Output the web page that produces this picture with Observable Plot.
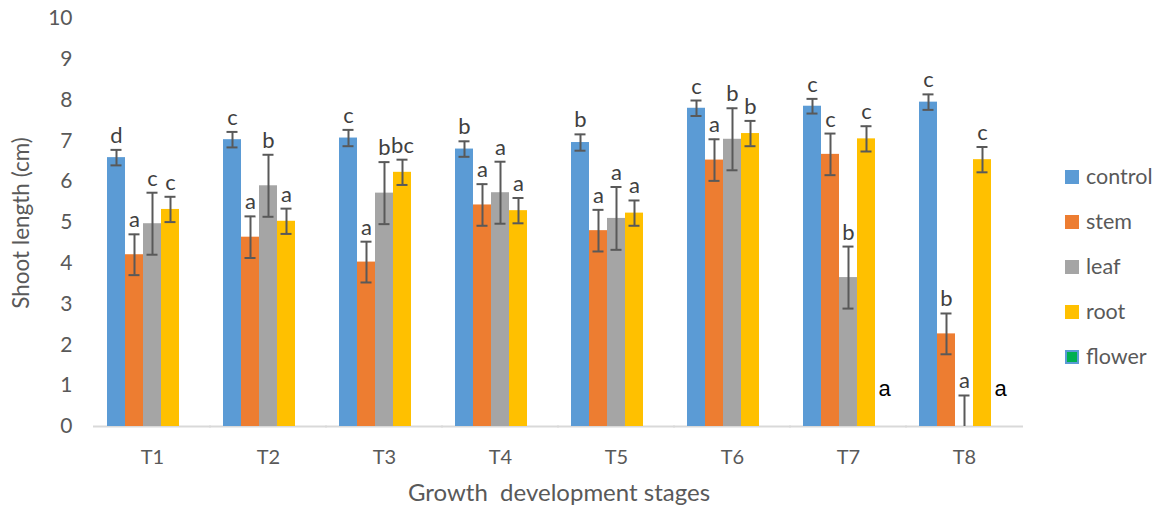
<!DOCTYPE html>
<html>
<head>
<meta charset="utf-8">
<script src="https://cdn.jsdelivr.net/npm/d3@7"></script>
<script src="https://cdn.jsdelivr.net/npm/@observablehq/plot@0.6"></script>
<style>
  html, body { margin: 0; padding: 0; background: #fff; }
  #wrap { position: relative; width: 1171px; height: 513px; overflow: hidden; font-family: Lato, "Open Sans", sans-serif; }
  #legend { position: absolute; left: 1065px; top: 154px; }
  .row { display: flex; align-items: center; height: 45px; }
  .sw { width: 14px; height: 14px; margin-right: 7px; box-sizing: border-box; }
  .lab { font-size: 21.5px; color: #595959; line-height: 1; }
</style>
</head>
<body>
<div id="wrap"><div id="chart"></div><div id="legend"></div></div>
<script>
const stages = ["T1", "T2", "T3", "T4", "T5", "T6", "T7", "T8"];
const series = ["control", "stem", "leaf", "root", "flower"];
const colors = ["#5B9BD5", "#ED7D31", "#A5A5A5", "#FFC000", "#00B050"];

const control    = [6.59, 7.03, 7.07, 6.80, 6.96, 7.80, 7.85, 7.95];
const controlErr = [0.19, 0.19, 0.20, 0.19, 0.20, 0.19, 0.18, 0.19];
const stem       = [4.21, 4.64, 4.03, 5.43, 4.80, 6.53, 6.67, 2.27];
const stemErr    = [0.50, 0.51, 0.50, 0.51, 0.51, 0.51, 0.51, 0.50];
const leaf       = [4.97, 5.90, 5.72, 5.73, 5.10, 7.04, 3.65, 0];
const leafErr    = [0.76, 0.76, 0.76, 0.76, 0.77, 0.76, 0.76, 0.76];
const root       = [5.32, 5.03, 6.23, 5.29, 5.23, 7.18, 7.05, 6.54];
const rootErr    = [0.31, 0.31, 0.31, 0.31, 0.31, 0.31, 0.31, 0.31];
const flower     = [0, 0, 0, 0, 0, 0, 0, 0];
const flowerErr  = [0, 0, 0, 0, 0, 0, 0, 0];

const controlLetters = ["d", "c", "c", "b", "b", "c", "c", "c"];
const stemLetters    = ["a", "a", "a", "a", "a", "a", "c", "b"];
const leafLetters    = ["c", "b", "b", "a", "a", "b", "b", "a"];
const rootLetters    = ["c", "a", "bc", "a", "a", "b", "c", "c"];
const flowerLetters  = ["", "", "", "", "", "", "a", "a"];

const yTicks = [0, 1, 2, 3, 4, 5, 6, 7, 8, 9, 10];

const values  = [control, stem, leaf, root, flower];
const errs    = [controlErr, stemErr, leafErr, rootErr, flowerErr];
const letters = [controlLetters, stemLetters, leafLetters, rootLetters, flowerLetters];

const rows = [];
stages.forEach((st, i) => {
  series.forEach((s, j) => {
    const v = values[j][i], e = errs[j][i];
    rows.push({stage: st, series: s, value: v, err: e,
      lo: Math.max(0, v - e), hi: v + e, loRaw: v - e, letter: letters[j][i]});
  });
});
const withErr = rows.filter(d => d.err > 0);
const lowCaps = withErr.filter(d => d.loRaw > 0);
const normalLabels = rows.filter(d => d.series !== "flower" && d.letter);
const flowerLabels = rows.filter(d => d.series === "flower" && d.letter);

const errColor = "#595959";

const chart = Plot.plot({
  width: 1171,
  height: 513,
  marginLeft: 92,
  marginRight: 148,
  marginTop: 18,
  marginBottom: 87,
  style: {fontFamily: "Lato, 'Open Sans', sans-serif", color: "#595959", background: "#fff"},
  fx: {domain: stages, paddingInner: 0.227, paddingOuter: 0.1135, label: null},
  x: {domain: series, padding: 0, axis: null},
  y: {domain: [0, 10], ticks: yTicks, grid: false, label: null},
  color: {domain: series, range: colors},
  marks: [
    Plot.axisY({ticks: yTicks, tickSize: 0, tickPadding: 35, fontSize: 21, fill: "#595959", anchor: "left"}),
    Plot.axisFx({anchor: "bottom", tickSize: 0, tickPadding: 23, fontSize: 20, fill: "#595959", label: null}),
    Plot.ruleY([0], {stroke: "#D9D9D9", strokeWidth: 2, insetLeft: -14, insetRight: -14}),
    Plot.barY(rows, {fx: "stage", x: "series", y: "value", fill: "series"}),
    Plot.ruleX(withErr, {fx: "stage", x: "series", y1: "lo", y2: "hi", stroke: errColor, strokeWidth: 2}),
    Plot.tickY(withErr, {fx: "stage", x: "series", y: "hi", stroke: errColor, strokeWidth: 2, insetLeft: 3.5, insetRight: 3.5}),
    Plot.tickY(lowCaps, {fx: "stage", x: "series", y: "lo", stroke: errColor, strokeWidth: 2, insetLeft: 3.5, insetRight: 3.5}),
    Plot.text(normalLabels, {fx: "stage", x: "series", y: "hi", text: "letter", lineAnchor: "bottom", dy: -7, fontSize: 22, fill: "#404040"}),
    Plot.text(flowerLabels, {fx: "stage", x: "series", y: "value", text: "letter", dy: -38, fontSize: 22, fill: "#000", fontFamily: "'Liberation Sans', Arial, sans-serif"})
  ]
});
document.getElementById("chart").appendChild(chart);

const svg = d3.select(chart);
svg.append("text")
  .attr("transform", "translate(23,223) rotate(-90)")
  .attr("text-anchor", "middle").attr("dominant-baseline", "middle")
  .attr("font-size", 22.5).attr("fill", "#595959")
  .attr("font-family", "Lato, 'Open Sans', sans-serif")
  .text("Shoot length (cm)");
svg.append("text")
  .attr("x", 559).attr("y", 495)
  .attr("text-anchor", "middle").attr("dominant-baseline", "middle")
  .attr("font-size", 24).attr("fill", "#595959")
  .attr("font-family", "Lato, 'Open Sans', sans-serif")
  .text("Growth\u00a0 development stages");

const legend = d3.select("#legend");
series.forEach((s, j) => {
  const r = legend.append("div").attr("class", "row");
  const sw = r.append("div").attr("class", "sw").style("background", colors[j]);
  if (s === "flower") sw.style("border", "2px solid #5B9BD5");
  r.append("div").attr("class", "lab").text(s);
});
</script>
</body>
</html>
